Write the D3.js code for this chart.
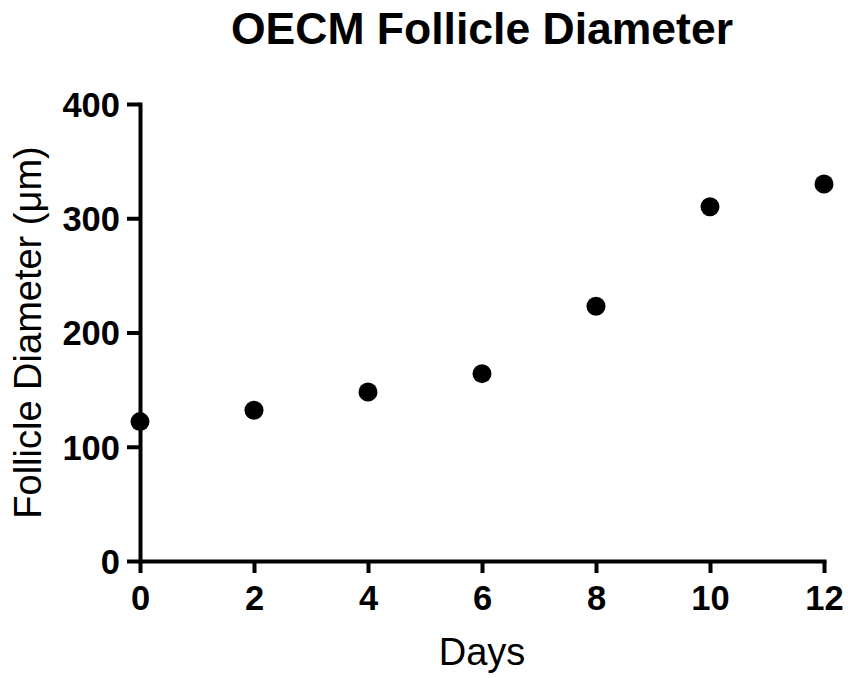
<!DOCTYPE html>
<html>
<head>
<meta charset="utf-8">
<script src="https://cdnjs.cloudflare.com/ajax/libs/d3/7.8.5/d3.min.js"></script>
<style>
	body { margin: 0; background: #fff; }
	svg { display: block; font-family: "Liberation Sans", Arial, sans-serif; }
</style>
</head>
<body>
<svg id="chart" width="848" height="678"></svg>
<script>
// data
var days = [0, 2, 4, 6, 8, 10, 12];
var diameter = [122, 132, 148, 164, 223, 310, 330];
var xTicks = [0, 2, 4, 6, 8, 10, 12];
var yTicks = [0, 100, 200, 300, 400];

var svg = d3.select('#chart');

var plotLeft = 140, plotRight = 824, plotTop = 104, plotBottom = 561;

var x = d3.scaleLinear().domain([0, 12]).range([plotLeft, plotRight]);
var y = d3.scaleLinear().domain([0, 400]).range([plotBottom, plotTop]);

var xAxis = svg.append('g')
	.attr('transform', 'translate(0,' + plotBottom + ')')
	.call(d3.axisBottom(x).tickValues(xTicks).tickSize(12).tickPadding(13).tickSizeOuter(0));

var yAxis = svg.append('g')
	.attr('transform', 'translate(' + plotLeft + ',0)')
	.call(d3.axisLeft(y).tickValues(yTicks).tickSize(13).tickPadding(7).tickSizeOuter(0));

[xAxis, yAxis].forEach(function (ax) {
	ax.attr('font-size', null).attr('font-family', null);
	ax.select('.domain').attr('stroke', '#000').attr('stroke-width', 4).attr('stroke-linecap', 'square');
	ax.selectAll('.tick line').attr('stroke', '#000').attr('stroke-width', 4);
	ax.selectAll('.tick text')
		.attr('fill', '#000')
		.style('font-size', '34.5px')
		.style('font-weight', 'bold');
});
yAxis.selectAll('.tick text').attr('dy', '0.36em');

svg.selectAll('circle.pt')
	.data(days)
	.enter().append('circle')
	.attr('class', 'pt')
	.attr('cx', function (d) { return x(d); })
	.attr('cy', function (d, i) { return y(diameter[i]); })
	.attr('r', 9.5)
	.attr('fill', '#000');

svg.append('text')
	.attr('x', (plotLeft + plotRight) / 2)
	.attr('y', 44)
	.attr('text-anchor', 'middle')
	.style('font-size', '44.5px')
	.style('font-weight', 'bold')
	.text('OECM Follicle Diameter');

svg.append('text')
	.attr('x', (plotLeft + plotRight) / 2)
	.attr('y', 665)
	.attr('text-anchor', 'middle')
	.style('font-size', '38px')
	.text('Days');

svg.append('text')
	.attr('transform', 'translate(41,' + (plotTop + plotBottom) / 2 + ') rotate(-90)')
	.attr('text-anchor', 'middle')
	.style('font-size', '38px')
	.text('Follicle Diameter (\u03bcm)');
</script>
</body>
</html>
